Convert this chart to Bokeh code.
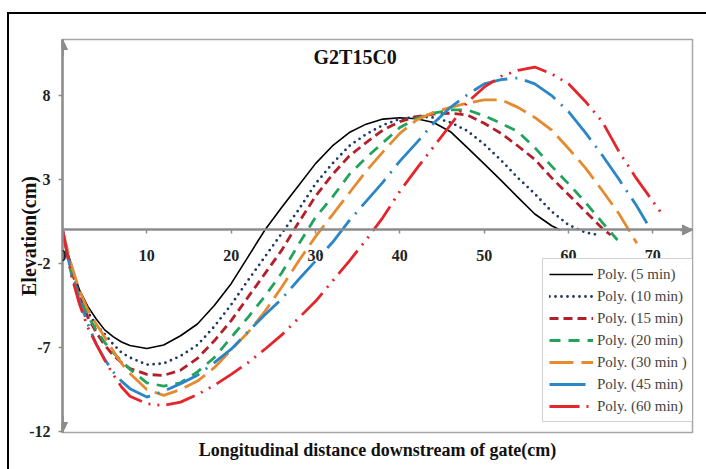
from bokeh.plotting import figure
from bokeh.models import (Range1d, FixedTicker, Legend, LegendItem, Label, Title,
                          Arrow, NormalHead, PrintfTickFormatter, InlineStyleSheet)
from bokeh.embed import file_html
from bokeh.resources import INLINE

# ---------------- data ----------------
X_MIN, X_MAX = 0, 74.7
Y_MIN, Y_MAX = -12.06, 11.34
x_ticks = [0, 10, 20, 30, 40, 50, 60, 70]
y_ticks = [-12, -7, -2, 3, 8]

title_text = "G2T15C0"
x_label = "Longitudinal distance downstream of gate(cm)"
y_label = "Elevation(cm)"

labels = ["Poly. (5 min)", "Poly. (10 min)", "Poly. (15 min)", "Poly. (20 min)",
          "Poly. (30 min )", "Poly. (45 min)", "Poly. (60 min)"]

x_5 = [0, 1, 2, 3, 4, 5, 6, 7, 8, 10, 12, 14, 16, 18, 20, 22, 24, 26, 28, 30, 32, 34,
       36, 38, 40, 42, 44, 46, 48, 50, 52, 54, 56, 58, 59]
y_5 = [0, -2.1, -3.55, -4.55, -5.3, -5.95, -6.35, -6.67, -6.88, -7.06, -6.85, -6.3,
       -5.6, -4.5, -3.2, -1.6, 0.0, 1.35, 2.65, 3.95, 5.0, 5.8, 6.3, 6.6, 6.68, 6.62,
       6.4, 5.85, 4.9, 3.93, 2.95, 1.94, 0.95, 0.25, 0.0]

x_10 = [0, 1, 2, 3, 4, 5, 6, 7, 8, 10, 12, 14, 16, 18, 20, 22, 24, 26, 28, 30, 32, 34,
        36, 38, 40, 42, 44, 46, 48, 50, 52, 54, 56, 58, 60, 62, 63.5]
y_10 = [0, -2.2, -3.8, -4.9, -5.65, -6.2, -6.8, -7.3, -7.6, -8.02, -7.95, -7.5, -6.85,
        -5.75, -4.45, -3.0, -1.6, -0.2, 1.2, 2.75, 3.95, 5.0, 5.7, 6.25, 6.6, 6.75, 6.7,
        6.4, 5.9, 5.1, 4.15, 3.1, 2.15, 1.1, 0.3, -0.15, -0.3]

x_15 = [0, 1, 2, 3, 4, 5, 6, 7, 8, 10, 12, 14, 16, 18, 20, 22, 24, 26, 28, 30, 32, 34,
        36, 38, 40, 42, 44, 46, 48, 50, 52, 54, 56, 58, 60, 62, 64, 65]
y_15 = [0, -2.3, -3.9, -5.2, -6.1, -6.85, -7.45, -7.9, -8.25, -8.6, -8.66, -8.35, -7.65,
        -6.6, -5.4, -4.0, -2.6, -1.2, 0.45, 2.0, 3.3, 4.4, 5.2, 5.95, 6.45, 6.75, 6.9,
        6.95, 6.85, 6.35, 5.75, 5.0, 4.2, 3.1, 2.1, 1.1, 0.1, -0.3]

x_20 = [0, 1, 2, 3, 4, 5, 6, 7, 8, 10, 12, 14, 16, 18, 20, 22, 24, 26, 28, 30, 32, 34,
        36, 38, 40, 42, 44, 46, 48, 50, 52, 54, 56, 58, 60, 62, 64, 65.8]
y_20 = [0, -2.5, -4.0, -5.1, -5.95, -6.7, -7.3, -7.8, -8.3, -9.1, -9.3, -9.1, -8.45,
        -7.6, -6.4, -5.2, -3.95, -2.55, -0.85, 0.75, 1.95, 3.3, 4.3, 5.2, 6.1, 6.65,
        6.95, 7.15, 7.15, 6.8, 6.35, 5.85, 4.9, 3.8, 2.75, 1.65, 0.45, -0.6]

x_30 = [0, 1, 2, 3, 4, 5, 6, 7, 8, 10, 12, 14, 16, 18, 20, 22, 24, 26, 28, 30, 32, 34,
        36, 38, 40, 42, 44, 46, 48, 50, 52, 54, 56, 58, 60, 62, 64, 66, 68.1]
y_30 = [0, -2.0, -3.6, -4.75, -5.6, -6.37, -7.2, -7.95, -8.55, -9.5, -9.85, -9.5, -9.0,
        -8.2, -7.15, -6.1, -4.85, -3.4, -1.85, -0.4, 0.9, 2.2, 3.5, 4.65, 5.75, 6.55,
        7.0, 7.3, 7.55, 7.75, 7.75, 7.3, 6.7, 5.95, 4.85, 3.7, 2.35, 0.95, -0.8]

x_45 = [0, 1, 2, 3, 4, 5, 6, 7, 8, 10, 12, 14, 16, 18, 20, 22, 24, 26, 28, 30, 32, 34,
        36, 38, 40, 42, 44, 46, 48, 50, 52, 54, 56, 58, 60, 62, 64, 66, 68, 69.3]
y_45 = [0, -2.5, -4.2, -5.6, -6.8, -7.7, -8.45, -9.0, -9.45, -9.95, -9.6, -9.15, -8.65,
        -7.9, -7.1, -6.05, -5.05, -4.1, -2.95, -1.85, -0.75, 0.55, 1.7, 2.85, 4.1, 5.2,
        6.35, 7.3, 8.05, 8.7, 8.95, 9.05, 8.7, 8.0, 7.05, 5.8, 4.45, 3.0, 1.5, 0.4]

x_60 = [0, 1, 2, 3, 4, 5, 6, 7, 8, 10, 12, 14, 16, 18, 20, 22, 24, 26, 28, 30, 32, 34,
        36, 38, 40, 42, 44, 46, 48, 50, 52, 54, 56, 58, 60, 62, 64, 66, 68, 70, 71.3]
y_60 = [0, -2.6, -4.4, -5.8, -6.8, -7.75, -8.6, -9.35, -9.9, -10.35, -10.45, -10.25,
        -9.8, -9.25, -8.6, -7.9, -7.1, -6.25, -5.25, -4.25, -3.05, -1.85, -0.6, 0.75,
        2.3, 3.65, 4.95, 6.25, 7.6, 8.5, 9.15, 9.5, 9.7, 9.3, 8.7, 7.65, 6.45, 4.65,
        3.1, 1.7, 0.8]

series_x = [x_5, x_10, x_15, x_20, x_30, x_45, x_60]
series_y = [y_5, y_10, y_15, y_20, y_30, y_45, y_60]

# ---------------- styles ----------------
colors = ["#000000", "#1F3864", "#B3202A", "#21A35B", "#E58A2E", "#2A86C6", "#E5252A"]
dashes = ["solid", "0 6", "9 5", "11 8", "24 8", "36 8 2 8", "30 7 2 7 2 7"]
widths = [1.6, 2.8, 2.8, 2.8, 2.8, 2.8, 2.8]
caps = ["butt", "round", "butt", "butt", "butt", "butt", "butt"]

SERIF = "Liberation Serif"
AXIS_GRAY = "#8C8C8C"

p = figure(width=698, height=466,
           x_range=Range1d(X_MIN, X_MAX), y_range=Range1d(Y_MIN, Y_MAX),
           output_backend="svg", toolbar_location=None,
           min_border_left=62, min_border_right=6, min_border_top=39,
           min_border_bottom=34)
p.grid.visible = False
p.outline_line_color = "#A6A6A6"
p.outline_line_width = 1.5
p.background_fill_color = "white"
p.border_fill_color = "white"

# outer black frame of the picture (decoration only)
p.stylesheets = [InlineStyleSheet(css=(
    ":host::after{content:'';position:absolute;left:7px;top:12px;width:760px;"
    "height:560px;border:2.5px solid #000;box-sizing:border-box;"
    "pointer-events:none;z-index:10}"))]

# x axis crossing at y = 0
xa = p.xaxis[0]
xa.fixed_location = 0
xa.level = "overlay"
xa.ticker = FixedTicker(ticks=x_ticks)
xa.formatter = PrintfTickFormatter(format="%d")
xa.axis_line_color = AXIS_GRAY
xa.axis_line_width = 2.5
xa.major_tick_line_color = AXIS_GRAY
xa.major_tick_line_width = 1.5
xa.major_tick_out = 4
xa.major_tick_in = 0
xa.minor_tick_line_color = None
xa.major_label_standoff = 16
xa.major_label_text_font = SERIF
xa.major_label_text_font_size = "16px"
xa.major_label_text_font_style = "bold"
xa.major_label_text_color = "#222222"

ya = p.yaxis[0]
ya.ticker = FixedTicker(ticks=y_ticks)
ya.formatter = PrintfTickFormatter(format="%d")
ya.axis_line_color = AXIS_GRAY
ya.axis_line_width = 2.5
ya.major_tick_line_color = AXIS_GRAY
ya.major_tick_line_width = 1.5
ya.major_tick_out = 4
ya.major_tick_in = 0
ya.minor_tick_line_color = None
ya.major_label_standoff = 8
ya.major_label_text_font = SERIF
ya.major_label_text_font_size = "16px"
ya.major_label_text_font_style = "bold"
ya.major_label_text_color = "#222222"
ya.axis_label = y_label
ya.axis_label_text_font = SERIF
ya.axis_label_text_font_size = "20px"
ya.axis_label_text_font_style = "bold"
ya.axis_label_text_color = "#111111"
ya.axis_label_standoff = -14

# arrow heads of the axes
head = dict(size=10, fill_color=AXIS_GRAY, line_color=AXIS_GRAY)
p.add_layout(Arrow(end=NormalHead(**head), x_start=X_MAX - 1.5, y_start=0,
                   x_end=X_MAX, y_end=0, line_color=AXIS_GRAY, line_width=2.5))
p.add_layout(Arrow(end=NormalHead(**head), x_start=X_MIN, y_start=Y_MAX - 1,
                   x_end=X_MIN, y_end=Y_MAX, line_color=AXIS_GRAY, line_width=2.5))
p.add_layout(Arrow(end=NormalHead(**head), x_start=X_MIN, y_start=Y_MIN + 1,
                   x_end=X_MIN, y_end=Y_MIN, line_color=AXIS_GRAY, line_width=2.5))

items = []
for xs, ys, lab, c, d, w, cap in zip(series_x, series_y, labels, colors, dashes, widths, caps):
    r = p.line(xs, ys, line_color=c, line_dash=d, line_width=w, line_cap=cap,
               line_join="round")
    items.append(LegendItem(label=lab, renderers=[r]))

legend = Legend(items=items, location=(480, 10), glyph_width=44, glyph_height=18,
                label_height=18, spacing=4, padding=6, label_standoff=4, margin=0,
                label_text_font=SERIF, label_text_font_size="15px",
                border_line_color="#A6A6A6", border_line_width=1,
                background_fill_color="white", background_fill_alpha=1)
p.add_layout(legend)

p.add_layout(Label(x=34.7, y=10.27, text=title_text, text_align="center",
                   text_baseline="middle", text_font=SERIF, text_font_size="20px",
                   text_font_style="bold", text_color="#111111"))

p.add_layout(Title(text=x_label, align="center", text_font=SERIF,
                   text_font_size="18px", text_font_style="bold",
                   text_color="#111111"), "below")

open("out.html", "w").write(file_html(p, INLINE))
